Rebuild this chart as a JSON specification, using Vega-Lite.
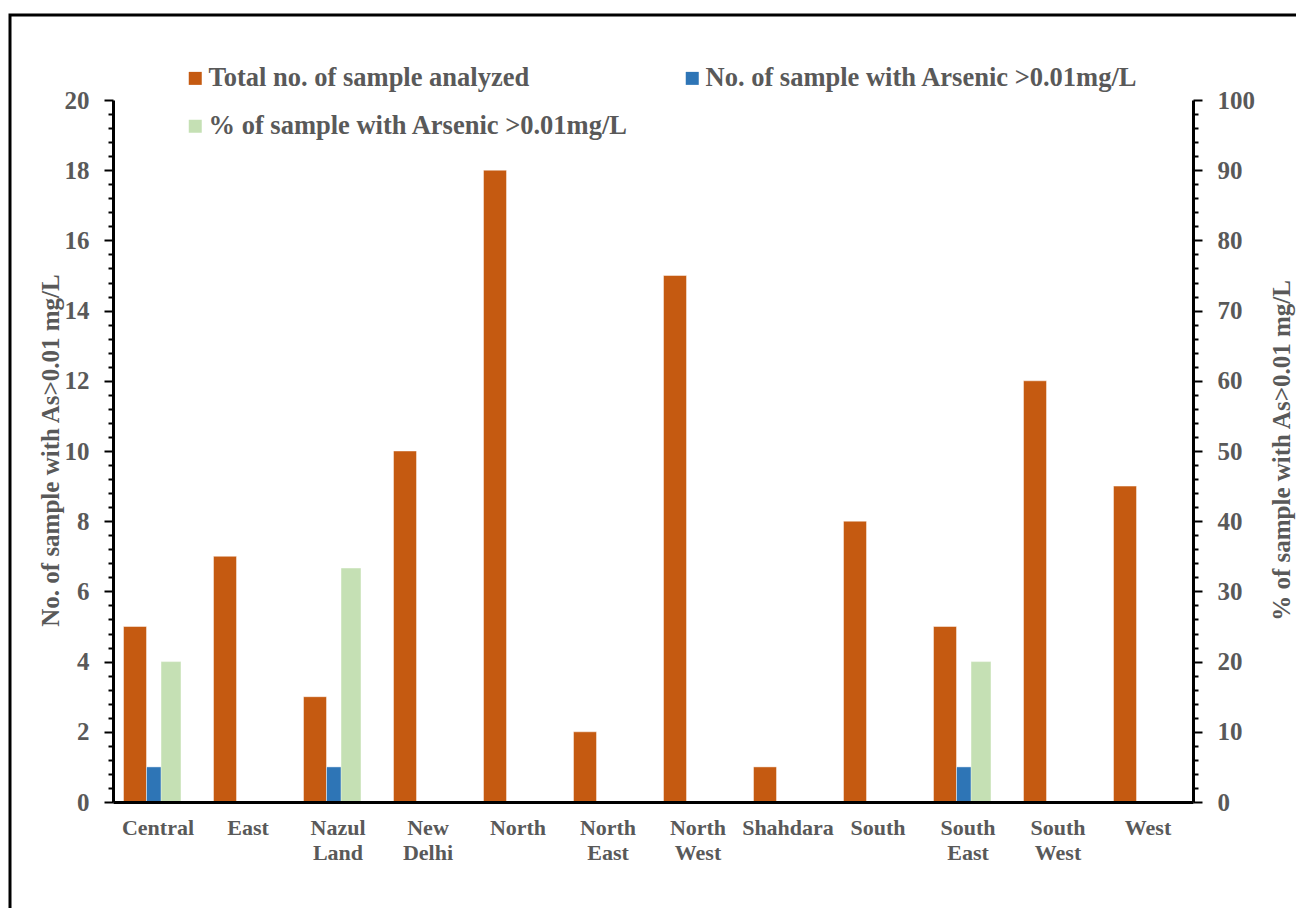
{
  "$schema": "https://vega.github.io/schema/vega-lite/v6.json",
  "description": "Arsenic in groundwater samples by district: samples analysed, samples above 0.01 mg/L and their share.",
  "width": 1292,
  "height": 899,
  "autosize": {"type": "none"},
  "padding": {"left": 10, "top": 15, "right": -6, "bottom": -6},
  "background": "white",
  "config": {
    "view": {"stroke": "#000000", "strokeWidth": 3},
    "font": "Liberation Serif",
    "axis": {
      "labelFont": "Liberation Serif",
      "titleFont": "Liberation Serif",
      "labelFontWeight": "bold",
      "titleFontWeight": "bold",
      "labelColor": "#595959",
      "titleColor": "#595959",
      "domainColor": "#000000",
      "tickColor": "#000000",
      "grid": false
    }
  },
  "data": {
    "values": [
      {"region": "Central", "series": "Total no. of sample analyzed", "value": 5},
      {"region": "Central", "series": "No. of sample with Arsenic >0.01mg/L", "value": 1},
      {"region": "Central", "series": "% of sample with Arsenic >0.01mg/L", "value": 20},
      {"region": "East", "series": "Total no. of sample analyzed", "value": 7},
      {"region": "East", "series": "No. of sample with Arsenic >0.01mg/L", "value": 0},
      {"region": "East", "series": "% of sample with Arsenic >0.01mg/L", "value": 0},
      {"region": "Nazul Land", "series": "Total no. of sample analyzed", "value": 3},
      {"region": "Nazul Land", "series": "No. of sample with Arsenic >0.01mg/L", "value": 1},
      {"region": "Nazul Land", "series": "% of sample with Arsenic >0.01mg/L", "value": 33.33},
      {"region": "New Delhi", "series": "Total no. of sample analyzed", "value": 10},
      {"region": "New Delhi", "series": "No. of sample with Arsenic >0.01mg/L", "value": 0},
      {"region": "New Delhi", "series": "% of sample with Arsenic >0.01mg/L", "value": 0},
      {"region": "North", "series": "Total no. of sample analyzed", "value": 18},
      {"region": "North", "series": "No. of sample with Arsenic >0.01mg/L", "value": 0},
      {"region": "North", "series": "% of sample with Arsenic >0.01mg/L", "value": 0},
      {"region": "North East", "series": "Total no. of sample analyzed", "value": 2},
      {"region": "North East", "series": "No. of sample with Arsenic >0.01mg/L", "value": 0},
      {"region": "North East", "series": "% of sample with Arsenic >0.01mg/L", "value": 0},
      {"region": "North West", "series": "Total no. of sample analyzed", "value": 15},
      {"region": "North West", "series": "No. of sample with Arsenic >0.01mg/L", "value": 0},
      {"region": "North West", "series": "% of sample with Arsenic >0.01mg/L", "value": 0},
      {"region": "Shahdara", "series": "Total no. of sample analyzed", "value": 1},
      {"region": "Shahdara", "series": "No. of sample with Arsenic >0.01mg/L", "value": 0},
      {"region": "Shahdara", "series": "% of sample with Arsenic >0.01mg/L", "value": 0},
      {"region": "South", "series": "Total no. of sample analyzed", "value": 8},
      {"region": "South", "series": "No. of sample with Arsenic >0.01mg/L", "value": 0},
      {"region": "South", "series": "% of sample with Arsenic >0.01mg/L", "value": 0},
      {"region": "South East", "series": "Total no. of sample analyzed", "value": 5},
      {"region": "South East", "series": "No. of sample with Arsenic >0.01mg/L", "value": 1},
      {"region": "South East", "series": "% of sample with Arsenic >0.01mg/L", "value": 20},
      {"region": "South West", "series": "Total no. of sample analyzed", "value": 12},
      {"region": "South West", "series": "No. of sample with Arsenic >0.01mg/L", "value": 0},
      {"region": "South West", "series": "% of sample with Arsenic >0.01mg/L", "value": 0},
      {"region": "West", "series": "Total no. of sample analyzed", "value": 9},
      {"region": "West", "series": "No. of sample with Arsenic >0.01mg/L", "value": 0},
      {"region": "West", "series": "% of sample with Arsenic >0.01mg/L", "value": 0}
    ]
  },
  "encoding": {
    "x": {
      "field": "region",
      "type": "nominal",
      "sort": ["Central", "East", "Nazul Land", "New Delhi", "North", "North East", "North West", "Shahdara", "South", "South East", "South West", "West"],
      "scale": {"range": [103, 1183], "paddingInner": 0, "paddingOuter": 0},
      "axis": {
        "orient": "bottom",
        "offset": -112,
        "title": null,
        "ticks": false,
        "labelAngle": 0,
        "labelAlign": "center",
        "labelFontSize": 22,
        "labelLineHeight": 25.5,
        "labelPadding": 15,
        "labelLimit": 0,
        "labelExpr": "split(datum.label, ' ')",
        "domainWidth": 3,
        "zindex": 1
      }
    },
    "color": {
      "field": "series",
      "type": "nominal",
      "scale": {
        "domain": ["Total no. of sample analyzed", "No. of sample with Arsenic >0.01mg/L", "% of sample with Arsenic >0.01mg/L"],
        "range": ["#C55A11", "#2E75B6", "#C5E0B4"]
      },
      "legend": {
        "orient": "none",
        "legendX": 172,
        "legendY": 50,
        "direction": "horizontal",
        "columns": 2,
        "title": null,
        "padding": 0,
        "symbolType": "square",
        "symbolSize": 169,
        "symbolStrokeWidth": 0,
        "symbolOpacity": 1,
        "labelFont": "Liberation Serif",
        "labelFontSize": 26.5,
        "labelFontWeight": "bold",
        "labelColor": "#595959",
        "labelOffset": 0,
        "labelLimit": 0,
        "columnPadding": 50,
        "rowPadding": 21
      }
    }
  },
  "layer": [
    {
      "transform": [{"filter": "datum.series != '% of sample with Arsenic >0.01mg/L'"}],
      "mark": {"type": "bar", "stroke": "#ffffff", "strokeWidth": 1, "strokeOpacity": 0.45},
      "encoding": {
        "xOffset": {
          "field": "series",
          "type": "nominal",
          "scale": {
            "domain": ["Total no. of sample analyzed", "No. of sample with Arsenic >0.01mg/L", "unused slot"],
            "paddingInner": 0,
            "paddingOuter": 0.4565
          }
        },
        "y": {
          "field": "value",
          "type": "quantitative",
          "scale": {"domain": [0, 20], "range": [787, 85], "nice": false},
          "axis": {
            "orient": "left",
            "offset": -103,
            "values": [0, 2, 4, 6, 8, 10, 12, 14, 16, 18, 20],
            "format": "d",
            "labelOverlap": false,
            "labelFontSize": 25,
            "labelPadding": 15,
            "tickSize": 9,
            "tickWidth": 2,
            "domainWidth": 3,
            "zindex": 1,
            "title": "No. of sample with As>0.01 mg/L",
            "titleFontSize": 25,
            "titleAngle": 270,
            "titleAlign": "center",
            "titleBaseline": "middle",
            "titleX": -62.5,
            "titleY": 435
          }
        }
      }
    },
    {
      "transform": [{"filter": "datum.series == '% of sample with Arsenic >0.01mg/L'"}],
      "mark": {"type": "bar", "stroke": "#ffffff", "strokeWidth": 1, "strokeOpacity": 0.45},
      "encoding": {
        "xOffset": {
          "field": "series",
          "type": "nominal",
          "scale": {
            "domain": ["spare slot a", "spare slot b", "% of sample with Arsenic >0.01mg/L"],
            "paddingInner": 0,
            "paddingOuter": 0.75,
            "align": 0.2667
          }
        },
        "y": {
          "field": "value",
          "type": "quantitative",
          "scale": {"domain": [0, 100], "range": [787, 85], "nice": false},
          "axis": {
            "orient": "right",
            "offset": -109,
            "values": [0, 10, 20, 30, 40, 50, 60, 70, 80, 90, 100],
            "format": "d",
            "labelOverlap": false,
            "labelFontSize": 25,
            "labelPadding": 15,
            "tickSize": 9,
            "tickWidth": 2,
            "domainWidth": 3,
            "zindex": 1,
            "title": "% of sample with As>0.01 mg/L",
            "titleFontSize": 25,
            "titleAngle": 270,
            "titleAlign": "center",
            "titleBaseline": "middle",
            "titleX": 88,
            "titleY": 435
          }
        }
      }
    },
    {
      "transform": [{"filter": "datum.series == 'Total no. of sample analyzed'"}],
      "mark": {"type": "tick", "opacity": 0},
      "encoding": {
        "y": {
          "field": "value",
          "type": "quantitative",
          "scale": {"domain": [0, 20], "range": [787, 85], "nice": false},
          "axis": {
            "orient": "left",
            "offset": -103,
            "values": [0.4, 0.8, 1.2, 1.6, 2.4, 2.8, 3.2, 3.6, 4.4, 4.8, 5.2, 5.6, 6.4, 6.8, 7.2, 7.6, 8.4, 8.8, 9.2, 9.6, 10.4, 10.8, 11.2, 11.6, 12.4, 12.8, 13.2, 13.6, 14.4, 14.8, 15.2, 15.6, 16.4, 16.8, 17.2, 17.6, 18.4, 18.8, 19.2, 19.6],
            "labels": false,
            "domain": false,
            "tickSize": 5,
            "tickWidth": 2,
            "zindex": 1,
            "title": null
          }
        }
      }
    },
    {
      "transform": [{"filter": "datum.series == '% of sample with Arsenic >0.01mg/L'"}],
      "mark": {"type": "tick", "opacity": 0},
      "encoding": {
        "y": {
          "field": "value",
          "type": "quantitative",
          "scale": {"domain": [0, 100], "range": [787, 85], "nice": false},
          "axis": {
            "orient": "right",
            "offset": -109,
            "values": [2, 4, 6, 8, 12, 14, 16, 18, 22, 24, 26, 28, 32, 34, 36, 38, 42, 44, 46, 48, 52, 54, 56, 58, 62, 64, 66, 68, 72, 74, 76, 78, 82, 84, 86, 88, 92, 94, 96, 98],
            "labels": false,
            "domain": false,
            "tickSize": 5,
            "tickWidth": 2,
            "zindex": 1,
            "title": null
          }
        }
      }
    }
  ],
  "resolve": {"scale": {"y": "independent", "xOffset": "independent"}}
}
